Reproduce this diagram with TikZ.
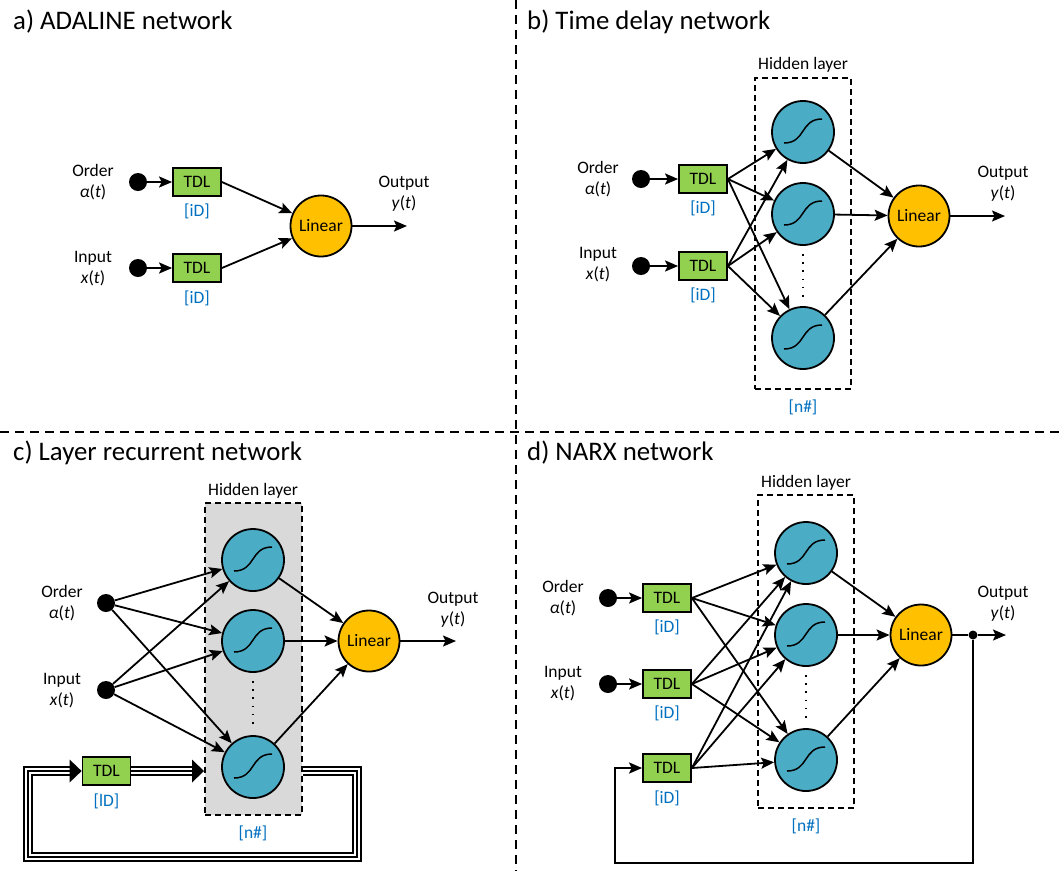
\documentclass[tikz,border=0pt]{standalone}
\usepackage{fontspec}
\setmainfont{Carlito}
\usetikzlibrary{arrows.meta}
\definecolor{tdlgreen}{HTML}{92D050}
\definecolor{nblue}{HTML}{4BACC6}
\definecolor{lorange}{HTML}{FFC000}
\definecolor{lblue}{HTML}{0070C0}
\definecolor{hgray}{HTML}{D9D9D9}
\begin{document}
\begin{tikzpicture}[x=1pt,y=-1pt,
  lbl/.style={font=\fontsize{17.5}{21}\selectfont, align=center, inner sep=0pt},
  bl/.style={lbl, text=lblue},
  ttl/.style={font=\fontsize{26.8}{30}\selectfont, anchor=west, inner sep=0pt},
  tdl/.style={draw, line width=1.8pt, fill=tdlgreen, minimum width=48pt, minimum height=28pt, inner sep=0pt, font=\fontsize{17.5}{21}\selectfont},
  neuron/.style={circle, draw, line width=1.8pt, fill=nblue, minimum size=62pt, inner sep=0pt,
    path picture={\draw[line width=1.5pt] ([shift={(-19,11)}]path picture bounding box.center) .. controls +(22,0) and +(-22,0) .. ([shift={(19,-13)}]path picture bounding box.center);}},
  lin/.style={circle, draw, line width=1.8pt, fill=lorange, minimum size=61pt, inner sep=0pt, font=\fontsize{17.5}{21}\selectfont},
  dotn/.style={circle, fill=black, minimum size=18pt, inner sep=0pt},
  jdot/.style={circle, fill=black, minimum size=9pt, inner sep=0pt},
  conn/.style={line width=1.8pt, -{Stealth[length=13pt,width=11pt,inset=2.5pt]}},
  plain/.style={line width=1.8pt},
  hid/.style={draw, line width=1.6pt, dash pattern=on 6pt off 4pt, inner sep=0pt},
  divider/.style={line width=1.5pt, dash pattern=on 9pt off 6pt},
  dotline/.style={line width=1.7pt, dash pattern=on 1.7pt off 6.5pt},
  triple/.style={line width=10pt, line join=miter, postaction={draw=white, line width=6.4pt, line join=miter}, postaction={draw=black, line width=2pt, line join=miter}},
]
\useasboundingbox (0,0) rectangle (1064,871);
\fill[white] (0,0) rectangle (1064,871);

% dividers
\draw[divider] (516,0) -- (516,871);
\draw[divider] (0,432) -- (1064,432);

%================ a) ================
\node[ttl] (ta) at (13,22) {a) ADALINE network};
\node[lbl] (la1) at (93,182) {Order\\\textit{α}(\textit{t})};
\node[lbl] (la2) at (93,269) {Input\\\textit{x}(\textit{t})};
\node[dotn] (da1) at (138,182) {};
\node[dotn] (da2) at (138,268) {};
\node[tdl] (ka1) at (197,182) {TDL};
\node[tdl] (ka2) at (197,268) {TDL};
\node[bl] (ia1) at (197,211) {[iD]};
\node[bl] (ia2) at (197,298) {[iD]};
\node[lin] (La) at (321,226) {Linear};
\coordinate (oa) at (407,226);
\node[lbl] (outa) at (404,194) {Output\\\textit{y}(\textit{t})};
\draw[conn] (da1) -- (ka1);
\draw[conn] (da2) -- (ka2);
\draw[conn] (ka1.east) -- (La);
\draw[conn] (ka2.east) -- (La);
\draw[conn] (La) -- (oa);

%================ b) ================
\node[ttl] (tb) at (527,22) {b) Time delay network};
\node[hid, minimum width=96pt, minimum height=311pt] (hb) at (803,233.5) {};
\node[lbl] (hlb) at (803,65) {Hidden layer};
\node[bl] (nnb) at (803,407) {[n\#]};
\node[neuron] (nb1) at (803,132) {};
\node[neuron] (nb2) at (803,214) {};
\node[neuron] (nb3) at (803,338) {};
\draw[dotline] ([yshift=-8pt]nb2.south) -- ([yshift=8pt]nb3.north);
\node[lin] (Lb) at (919,216) {Linear};
\coordinate (ob) at (1005,216);
\node[lbl] (outb) at (1003,184) {Output\\\textit{y}(\textit{t})};
\node[lbl] (lb1) at (598,179) {Order\\\textit{α}(\textit{t})};
\node[lbl] (lb2) at (598,265) {Input\\\textit{x}(\textit{t})};
\node[dotn] (db1) at (641,179) {};
\node[dotn] (db2) at (641,266) {};
\node[tdl] (kb1) at (703,179) {TDL};
\node[tdl] (kb2) at (703,266) {TDL};
\node[bl] (ib1) at (703,208) {[iD]};
\node[bl] (ib2) at (703,295) {[iD]};
\draw[conn] (db1) -- (kb1);
\draw[conn] (db2) -- (kb2);
\foreach \i in {1,2}{\foreach \j in {1,2,3}{\draw[conn] (kb\i.east) -- (nb\j);}}
\foreach \j in {1,2,3}{\draw[conn] (nb\j) -- (Lb);}
\draw[conn] (Lb) -- (ob);

%================ c) ================
\node[ttl] (tc) at (13,453) {c) Layer recurrent network};
\node[hid, fill=hgray, minimum width=97pt, minimum height=312pt] (hc) at (253.3,659) {};
\node[lbl] (hlc) at (253,491) {Hidden layer};
\node[bl] (nnc) at (253,833) {[n\#]};
\node[tdl] (kc) at (106.5,771) {TDL};
\node[bl] (ic) at (106.5,801) {[lD]};
\coordinate (ca1) at (357,771);
\coordinate (ca2) at (357,857);
\coordinate (ca3) at (28,857);
\coordinate (ca4) at (28,771);
\coordinate (cb1) at ([xshift=-12pt]kc.west);
\coordinate (cb2) at ([xshift=-12pt]hc.west |- kc);
\draw[triple] (hc.east |- kc) -- (ca1) -- (ca2) -- (ca3) -- (ca4) -- (cb1);
\draw[triple] (kc.east) -- (cb2);
\fill ([yshift=11.5pt]cb1) -- (kc.west) -- ([yshift=-11.5pt]cb1) -- cycle;
\fill ([yshift=11.5pt]cb2) -- (hc.west |- kc) -- ([yshift=-11.5pt]cb2) -- cycle;
\node[neuron] (nc1) at (253,560) {};
\node[neuron] (nc2) at (253,641) {};
\node[neuron] (nc3) at (253,767) {};
\draw[dotline] ([yshift=-8pt]nc2.south) -- ([yshift=8pt]nc3.north);
\node[lin] (Lc) at (369,641) {Linear};
\coordinate (oc) at (456,641);
\node[lbl] (outc) at (453,610) {Output\\\textit{y}(\textit{t})};
\node[lbl] (lc1) at (62,603) {Order\\\textit{α}(\textit{t})};
\node[lbl] (lc2) at (62,691) {Input\\\textit{x}(\textit{t})};
\node[dotn] (dc1) at (106,603) {};
\node[dotn] (dc2) at (106,690) {};
\foreach \i in {1,2}{\foreach \j in {1,2,3}{\draw[conn] (dc\i) -- (nc\j);}}
\foreach \j in {1,2,3}{\draw[conn] (nc\j) -- (Lc);}
\draw[conn] (Lc) -- (oc);

%================ d) ================
\node[ttl] (td) at (527,453) {d) NARX network};
\node[hid, minimum width=96pt, minimum height=313pt] (hd) at (805.8,651.5) {};
\node[lbl] (hld) at (806,483) {Hidden layer};
\node[bl] (nnd) at (806,826) {[n\#]};
\node[neuron] (nd1) at (806,553) {};
\node[neuron] (nd2) at (806,635) {};
\node[neuron] (nd3) at (806,760) {};
\draw[dotline] ([yshift=-8pt]nd2.south) -- ([yshift=8pt]nd3.north);
\node[lin] (Ld) at (921,635) {Linear};
\node[jdot] (jd) at (973,635) {};
\coordinate (od) at (1006,635);
\node[lbl] (outd) at (1003,604) {Output\\\textit{y}(\textit{t})};
\node[lbl] (ld1) at (563,598) {Order\\\textit{α}(\textit{t})};
\node[lbl] (ld2) at (563,684) {Input\\\textit{x}(\textit{t})};
\node[dotn] (dd1) at (608,598) {};
\node[dotn] (dd2) at (608,684) {};
\node[tdl] (kd1) at (667,598) {TDL};
\node[tdl] (kd2) at (667,684) {TDL};
\node[tdl] (kd3) at (667,768) {TDL};
\node[bl] (id1) at (667,627) {[iD]};
\node[bl] (id2) at (667,713) {[iD]};
\node[bl] (id3) at (667,798) {[iD]};
\coordinate (fd1) at (973,863);
\coordinate (fd2) at (615,863);
\coordinate (fd3) at (615,768);
\draw[conn] (dd1) -- (kd1);
\draw[conn] (dd2) -- (kd2);
\foreach \i in {1,2,3}{\foreach \j in {1,2,3}{\draw[conn] (kd\i.east) -- (nd\j);}}
\foreach \j in {1,2,3}{\draw[conn] (nd\j) -- (Ld);}
\draw[plain] (Ld) -- (jd);
\draw[conn] (jd) -- (od);
\draw[conn, line width=2.2pt] (jd) -- (fd1) -- (fd2) -- (fd3) -- (kd3.west);
\end{tikzpicture}
\end{document}
